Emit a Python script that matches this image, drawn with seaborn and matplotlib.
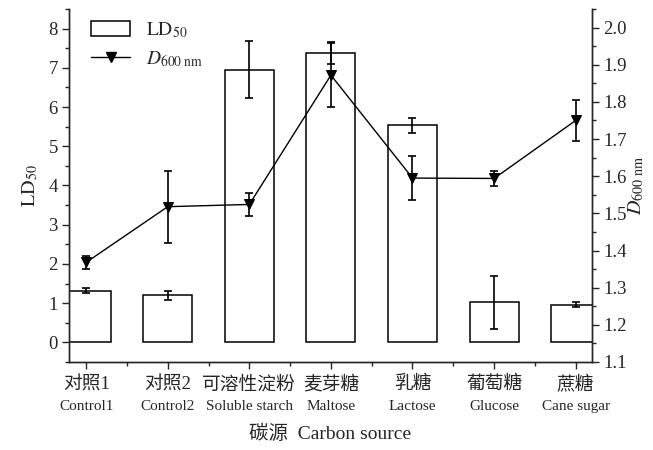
import numpy as np
import pandas as pd
import matplotlib
matplotlib.use("Agg")
import matplotlib.pyplot as plt
import seaborn as sns
from matplotlib.ticker import MultipleLocator, FormatStrFormatter
from matplotlib.lines import Line2D
from matplotlib.patches import Patch

# ---- data ----
cats_cn = ["对照1", "对照2", "可溶性淀粉", "麦芽糖", "乳糖", "葡萄糖", "蔗糖"]
cats_en = ["Control1", "Control2", "Soluble starch", "Maltose", "Lactose", "Glucose", "Cane sugar"]
ld50 = [1.32, 1.20, 6.95, 7.38, 5.53, 1.02, 0.96]
ld50_err = [0.07, 0.11, 0.73, 0.27, 0.19, 0.68, 0.07]
d600 = [1.368, 1.518, 1.524, 1.872, 1.595, 1.594, 1.750]
d600_err = [0.017, 0.097, 0.030, 0.087, 0.060, 0.020, 0.056]

sns.set_style("ticks")
plt.rcParams["font.family"] = ["Liberation Serif", "Noto Sans CJK SC"]
plt.rcParams["mathtext.fontset"] = "stix"
plt.rcParams["axes.linewidth"] = 1.0
plt.rcParams["xtick.direction"] = "out"
plt.rcParams["ytick.direction"] = "out"

fig = plt.figure(figsize=(6.53, 4.5), dpi=100)
ax = fig.add_axes([69/653, 1-362/450, (592-69)/653, (362-9)/450])

df = pd.DataFrame({"cat": cats_cn, "ld50": ld50})
sns.barplot(data=df, x="cat", y="ld50", ax=ax, color="white", edgecolor="black",
            linewidth=1.1, width=0.6, errorbar=None, zorder=2)
pos = np.arange(len(cats_cn))
ax.errorbar(pos, ld50, yerr=ld50_err, fmt="none", ecolor="black", elinewidth=1.2,
            capsize=3, capthick=1.2, zorder=3)

ax.set_xlim(-0.21, 6.2)
ax.set_ylim(-0.5, 8.5)
ax.yaxis.set_major_locator(MultipleLocator(1))
ax.yaxis.set_minor_locator(MultipleLocator(0.5))
ax.set_xticks(pos)
ax.set_xticks(pos[:-1] + 0.5, minor=True)
ax.set_xticklabels(cats_cn, fontsize=13.5)
ax.tick_params(axis="x", which="major", length=5, width=1, pad=5)
ax.tick_params(axis="x", which="minor", length=3, width=1)
ax.tick_params(axis="y", which="major", length=5, width=1, labelsize=13.5, pad=3)
ax.tick_params(axis="y", which="minor", length=3, width=1)
ax.spines["top"].set_visible(False)

for i, name in enumerate(cats_en):
    ax.text(pos[i], -0.127, name, transform=ax.get_xaxis_transform(),
            ha="center", va="center", fontsize=11)

ax.set_xlabel("碳源  Carbon source", fontsize=14, labelpad=22)
ax.set_ylabel(r"$\mathrm{LD}_{50}$", fontsize=14.5, labelpad=6)

ax2 = ax.twinx()
ax2.errorbar(pos, d600, yerr=d600_err, fmt="none", ecolor="black", elinewidth=1.2,
             capsize=3, capthick=1.2, zorder=3)
sns.lineplot(x=pos, y=d600, ax=ax2, color="black", linewidth=1.0, marker="v",
             markersize=7, markeredgecolor="black", markerfacecolor="black", zorder=4)
ax2.set_ylim(1.1, 2.05)
ax2.yaxis.set_major_locator(MultipleLocator(0.1))
ax2.yaxis.set_minor_locator(MultipleLocator(0.05))
ax2.tick_params(axis="y", which="major", length=5, width=1, labelsize=13.5, pad=3)
ax2.tick_params(axis="y", which="minor", length=3, width=1)
ax2.spines["top"].set_visible(False)
ax2.set_ylabel(r"$D_{\mathrm{600\ nm}}$", fontsize=14.5, labelpad=0)
ax2.yaxis.set_major_formatter(FormatStrFormatter("%.1f"))

handles = [Patch(facecolor="white", edgecolor="black", linewidth=1.1),
           Line2D([], [], color="black", linewidth=1.0, marker="v", markersize=7)]
ax.legend(handles, [r"$\mathrm{LD}_{50}$", r"$D_{\mathrm{600\ nm}}$"], loc="upper left",
          frameon=False, fontsize=14, handlelength=2.0, handleheight=0.8,
          borderaxespad=0.2, bbox_to_anchor=(0.02, 1.0), labelspacing=0.45)

fig.savefig("out.png", dpi=100)
